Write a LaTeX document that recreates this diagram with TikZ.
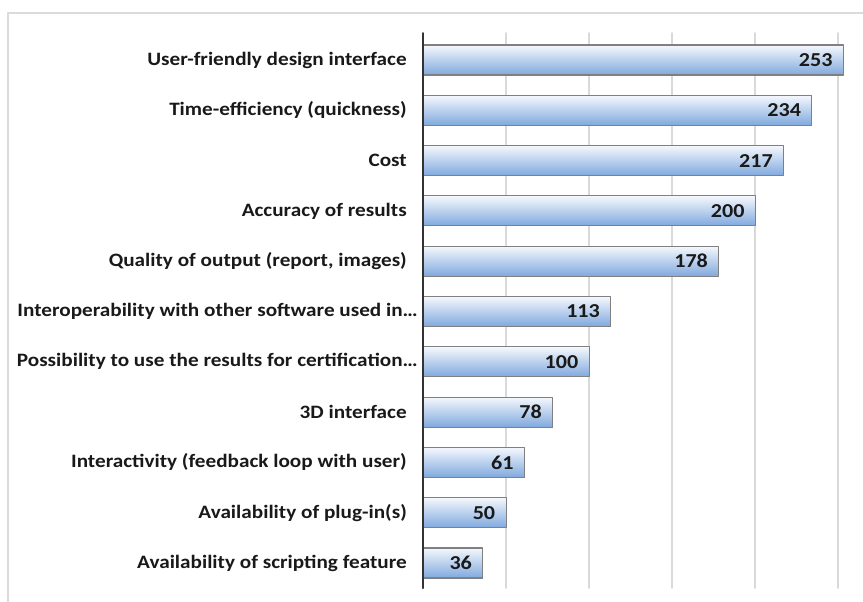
\documentclass[tikz,border=0pt]{standalone}
\usepackage{fontspec}
\setmainfont{Carlito}[FakeStretch=1.12]
\definecolor{gridgray}{rgb}{0.85,0.85,0.85}
\definecolor{framegray}{rgb}{0.86,0.86,0.86}
\definecolor{barblue}{rgb}{0.50,0.66,0.87}
\definecolor{baredge}{rgb}{0.50,0.50,0.50}
\definecolor{txtdark}{rgb}{0.10,0.10,0.10}

\begin{document}
\begin{tikzpicture}[x=0.75pt,y=-0.75pt,line cap=round,line join=round,
  bar/.style={draw=baredge,line width=0.8pt,top color=white!92!barblue,bottom color=barblue,
    anchor=west,minimum height=22.5pt,inner sep=0pt,outer sep=0pt},
  catlabel/.style={anchor=east,inner sep=0pt,text=txtdark,font=\bfseries\fontsize{14.2}{16}\selectfont},
  vallabel/.style={anchor=east,inner sep=0pt,text=txtdark,font=\bfseries\fontsize{14.8}{16}\selectfont},
  grid/.style={draw=gridgray,line width=1.2pt},
  axis/.style={draw=black!80,line width=1.5pt}]
\useasboundingbox (0,0) rectangle (863,601);
% frame
\draw[framegray,line width=1.5pt] (8,601) -- (8,13) -- (863,13);
% grid
\foreach \gx in {506,589,672,755,838}
  \draw[grid] (\gx,33) -- (\gx,588);
% bars
\foreach \v/\txt/\xr [count=\i from 0] in {253/User-friendly design interface/407,
  234/Time-efficiency (quickness)/407,
  217/Cost/407,
  200/Accuracy of results/407,
  178/{Quality of output (report, images)}/407,
  113/Interoperability with other software used in…/418,
  100/Possibility to use the results for certification…/418,
  78/3D interface/407,
  61/Interactivity (feedback loop with user)/407,
  50/Availability of plug-in(s)/407,
  36/Availability of scripting feature/407}
{
  \pgfmathsetmacro\yc{60+\i*50.3}
  \pgfmathsetmacro\bw{\v*1.662*0.75}
  \node[bar,minimum width=\bw pt] (bar\i) at (423,\yc) {};
  \node[vallabel] (val\i) at ([xshift=-8pt]bar\i.east) {\v};
  \node[catlabel] (cat\i) at (\xr,\yc) {\txt};
}
% axis
\draw[axis] (423,33) -- (423,588);
\end{tikzpicture}
\end{document}
